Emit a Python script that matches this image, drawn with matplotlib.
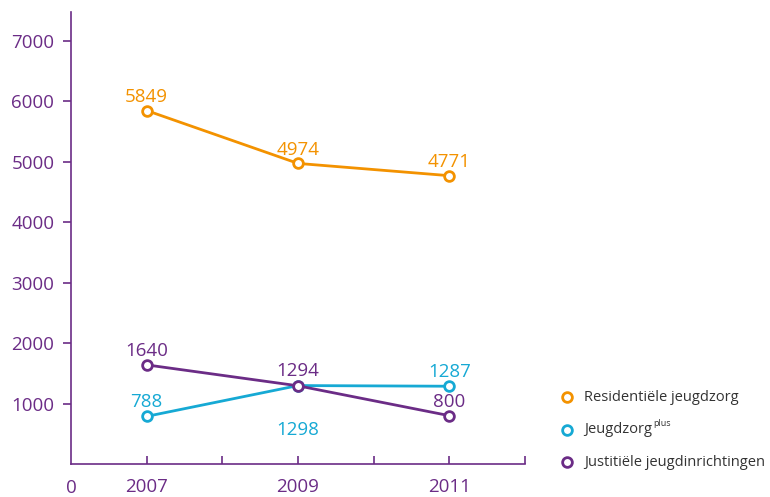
import matplotlib
matplotlib.use("Agg")
import matplotlib.pyplot as plt
from matplotlib.lines import Line2D

years = [2007, 2009, 2011]
residentieel = [5849, 4974, 4771]
jeugdzorgplus = [788, 1298, 1287]
justitieel = [1640, 1294, 800]

series_names = ["Residentiële jeugdzorg", "Jeugdzorg", "Justitiële jeugdinrichtingen"]
y_ticks = [1000, 2000, 3000, 4000, 5000, 6000, 7000]

orange = "#f39200"
cyan = "#16a9d4"
purple = "#6b2c86"
textgrey = "#333333"

plt.rcParams["font.family"] = ["Open Sans", "DejaVu Sans"]

fig = plt.figure(figsize=(7.7, 4.97), dpi=100)
ax = fig.add_axes([0.0922, 0.0664, 0.5896, 0.9095])

mk = dict(marker="o", markersize=7, markerfacecolor="white", markeredgewidth=2, lw=2, zorder=3)
ax.plot(years, residentieel, color=orange, **mk)
ax.plot(years, jeugdzorgplus, color=cyan, **mk)
ax.plot(years, justitieel, color=purple, **mk)

# value labels (offset in points: above or below the marker)
fs = 13.5
def lab(x, y, color, dy):
    ax.annotate(str(y), (x, y), xytext=(0, dy), textcoords="offset points",
                ha="center", va="center", color=color, fontsize=fs)

for x, v in zip(years, residentieel):
    lab(x, v, orange, 9.5)
lab(2007, 788, cyan, 10)
lab(2009, 1298, cyan, -32)
lab(2011, 1287, cyan, 10)
lab(2007, 1640, purple, 10)
lab(2009, 1294, purple, 11)
lab(2011, 800, purple, 10)

ax.set_xlim(2006, 2012)
ax.set_ylim(0, 7480)
ax.set_yticks(y_ticks)
ax.set_yticklabels([str(t) for t in y_ticks])
ax.set_xticks([2007, 2008, 2009, 2010, 2011, 2012])
ax.set_xticklabels(["2007", "", "2009", "", "2011", ""])

for s in ["top", "right"]:
    ax.spines[s].set_visible(False)
for s in ["left", "bottom"]:
    ax.spines[s].set_color(purple)
    ax.spines[s].set_linewidth(1.2)

ax.tick_params(axis="y", direction="out", length=6, width=1.2, color=purple,
               labelcolor=purple, labelsize=fs, pad=6)
ax.tick_params(axis="x", direction="in", length=6, width=1.2, color=purple,
               labelcolor=purple, labelsize=fs, pad=10)
ax.annotate("0", (2006, 0), xytext=(0, -17), textcoords="offset points",
            ha="center", va="center", color=purple, fontsize=fs, annotation_clip=False)

# legend drawn by hand
leg_y = [0.201, 0.135, 0.070]
for yy, c, name in zip(leg_y, [orange, cyan, purple], series_names):
    fig.add_artist(Line2D([0.7365], [yy], marker="o", markersize=7, markerfacecolor="white",
                          markeredgewidth=2, color=c, transform=fig.transFigure))
    t = fig.text(0.759, yy, name, ha="left", va="center", fontsize=10.5, color=textgrey)
    if name == "Jeugdzorg":
        fig.canvas.draw()
        bb = t.get_window_extent().transformed(fig.transFigure.inverted())
        fig.text(bb.x1 + 0.001, yy + 0.012, "plus", ha="left", va="center",
                 fontsize=6.5, color=textgrey)

fig.savefig("out.png", dpi=100)
